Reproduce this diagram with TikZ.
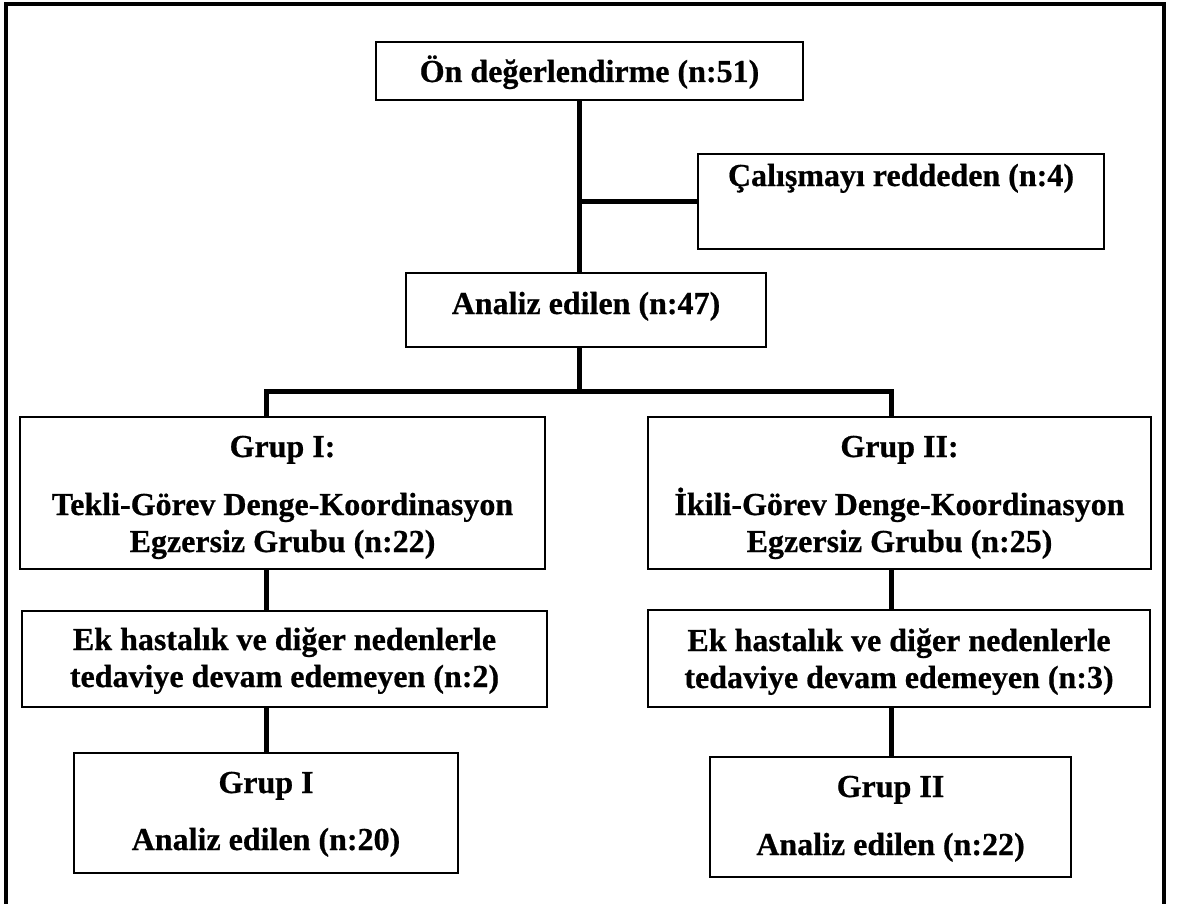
\documentclass[tikz,border=0pt]{standalone}
\usepackage{fontspec}
\setmainfont{Liberation Serif}[BoldFeatures={FakeBold=0.6}]
\begin{document}
\begin{tikzpicture}[x=1pt,y=-1pt,
  box/.style={draw, line width=1.8pt, rectangle, inner sep=0pt},
  conn/.style={line width=5pt, line join=miter},
  lbl/.style={anchor=base, inner sep=0pt, font=\bfseries\fontsize{32}{37}\selectfont},
  framestyle/.style={line width=3.5pt, line join=miter}]
\useasboundingbox (0,0) rectangle (1177,904);
% outer frame
\draw[framestyle] (6,904) -- (6,4) -- (1164,4) -- (1164,904);
% boxes
\node[box, minimum width=427pt, minimum height=58pt] (on) at (589.5,71) {};
\node[box, minimum width=406pt, minimum height=95pt] (cal) at (901,201.5) {};
\node[box, minimum width=360pt, minimum height=74pt] (an) at (586,310) {};
\node[box, minimum width=525pt, minimum height=152pt] (g1) at (282.5,493) {};
\node[box, minimum width=503pt, minimum height=152pt] (g2) at (899.5,493) {};
\node[box, minimum width=525pt, minimum height=96pt] (e1) at (284.5,659) {};
\node[box, minimum width=502pt, minimum height=97pt] (e2) at (899,658.5) {};
\node[box, minimum width=384pt, minimum height=120pt] (f1) at (266,813) {};
\node[box, minimum width=361pt, minimum height=120pt] (f2) at (890.5,817) {};
% texts
\node[lbl] (onT) at (589.5,82) {Ön değerlendirme (n:51)};
\node[lbl] (calT) at (901,186) {Çalışmayı reddeden (n:4)};
\node[lbl] (anT) at (586,314) {Analiz edilen (n:47)};
\node[lbl] (g1a) at (282.5,457) {Grup I:};
\node[lbl] (g1b) at (282.5,515) {Tekli-Görev Denge-Koordinasyon};
\node[lbl] (g1c) at (282.5,552) {Egzersiz Grubu (n:22)};
\node[lbl] (g2a) at (899.5,457) {Grup II:};
\node[lbl] (g2b) at (899.5,515) {İkili-Görev Denge-Koordinasyon};
\node[lbl] (g2c) at (899.5,552) {Egzersiz Grubu (n:25)};
\node[lbl] (e1a) at (284.5,650) {Ek hastalık ve diğer nedenlerle};
\node[lbl] (e1b) at (284.5,687) {tedaviye devam edemeyen (n:2)};
\node[lbl] (e2a) at (899,651) {Ek hastalık ve diğer nedenlerle};
\node[lbl] (e2b) at (899,688) {tedaviye devam edemeyen (n:3)};
\node[lbl] (f1a) at (266,793) {Grup I};
\node[lbl] (f1b) at (266,850) {Analiz edilen (n:20)};
\node[lbl] (f2a) at (890.5,797) {Grup II};
\node[lbl] (f2b) at (890.5,855) {Analiz edilen (n:22)};
% connectors
\coordinate (spine) at (579,0);
\coordinate (colL) at (266,0);
\coordinate (colR) at (891,0);
\coordinate (bus) at (0,391);
\draw[conn] (on.south -| spine) -- (an.north -| spine);
\draw[conn] (cal.west -| spine) -- (cal.west);
\draw[conn] (an.south -| spine) -- (spine |- bus);
\draw[conn] (g1.north -| colL) -- (colL |- bus) -- (colR |- bus) -- (g2.north -| colR);
\draw[conn] (g1.south -| colL) -- (e1.north -| colL);
\draw[conn] (e1.south -| colL) -- (f1.north -| colL);
\draw[conn] (g2.south -| colR) -- (e2.north -| colR);
\draw[conn] (e2.south -| colR) -- (f2.north -| colR);
\end{tikzpicture}
\end{document}
